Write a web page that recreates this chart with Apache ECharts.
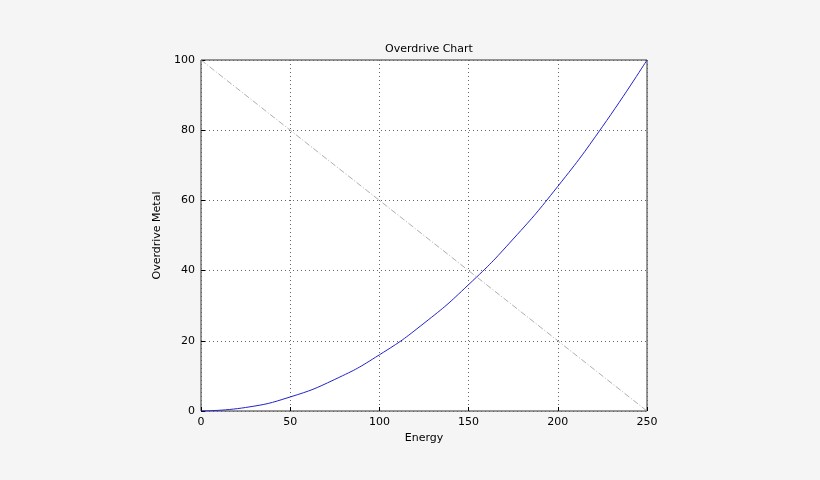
<!DOCTYPE html>
<html lang="en">
<head>
<meta charset="UTF-8">
<title>Overdrive Chart</title>
<script src="https://cdn.jsdelivr.net/npm/echarts@6/dist/echarts.min.js"></script>
<style>body{margin:0;background:#f5f5f5;}</style>
</head>
<body>
<div id="main" style="width:820px;height:480px;"></div>
<script>
var energy = [0, 25, 50, 75, 100, 125, 150, 175, 200, 225, 250];
var metal = [0, 1, 4, 9, 16, 25, 36, 49, 64, 81, 100];
var refLine = [[0, 100], [250, 0]];

var chart = echarts.init(document.getElementById('main'));
var axisText = { color: '#000', fontSize: 11, fontFamily: 'DejaVu Sans' };
chart.setOption({
    backgroundColor: '#f5f5f5',
    animation: false,
    title: { text: 'Overdrive Chart', left: 424, top: 39, textAlign: 'center',
        textStyle: { fontSize: 11, fontWeight: 'normal', color: '#000', fontFamily: 'DejaVu Sans' } },
    grid: { left: 201, right: 173, top: 60, bottom: 69, show: true, backgroundColor: '#fff',
        borderColor: '#333', borderWidth: 1 },
    xAxis: {
        type: 'value', min: 0, max: 250, interval: 50,
        name: 'Energy', nameLocation: 'middle', nameGap: 18, nameTextStyle: axisText,
        axisLine: { show: false }, axisTick: { inside: true, length: 4, lineStyle: { color: '#000' } },
        axisLabel: Object.assign({ margin: 6 }, axisText),
        splitLine: { lineStyle: { color: '#666', type: [1, 3] } }
    },
    yAxis: {
        type: 'value', min: 0, max: 100, interval: 20,
        name: 'Overdrive Metal', nameLocation: 'middle', nameGap: 24, nameTextStyle: axisText,
        axisLine: { show: false }, axisTick: { show: true, inside: true, length: 4, lineStyle: { color: '#000' } },
        axisLabel: Object.assign({ margin: 6 }, axisText),
        splitLine: { lineStyle: { color: '#666', type: [1, 3] } }
    },
    series: [
        { type: 'line', data: refLine, symbol: 'none',
          lineStyle: { color: '#999', width: 0.8, type: [6, 2, 1, 2] } },
        { type: 'line', smooth: true, symbol: 'none',
          data: energy.map(function (e, i) { return [e, metal[i]]; }),
          lineStyle: { color: '#2222cc', width: 1 } }
    ]
});
</script>
</body>
</html>
